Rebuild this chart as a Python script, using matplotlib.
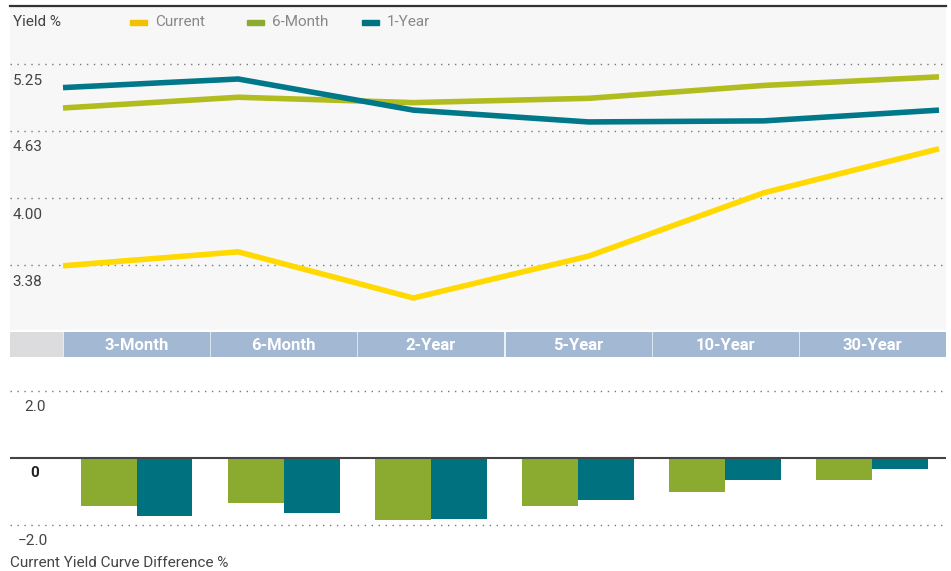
import numpy as np
import matplotlib
matplotlib.use('Agg')
import matplotlib.pyplot as plt
from matplotlib.patches import Rectangle

plt.rcParams['font.family'] = ['Roboto', 'DejaVu Sans']

# data
terms = ['3-Month', '6-Month', '2-Year', '5-Year', '10-Year', '30-Year']
series = ['Current', '6-Month', '1-Year']
current = [3.37, 3.50, 3.07, 3.46, 4.05, 4.46]
six_month = [4.84, 4.94, 4.89, 4.93, 5.05, 5.13]
one_year = [5.03, 5.11, 4.82, 4.71, 4.72, 4.82]
diff_6m = [-1.42, -1.33, -1.84, -1.42, -1.00, -0.64]
diff_1y = [-1.72, -1.63, -1.81, -1.24, -0.64, -0.31]
yield_ticks = [3.38, 4.00, 4.63, 5.25]
diff_ticks = [-2.0, 0, 2.0]

line_colors = ['#ffd900', '#b1bc1e', '#00788a']
swatch_colors = ['#f2c200', '#8aab2f', '#007380']
bar_colors = ['#8aab30', '#00727f']

W, H = 951, 571
fig = plt.figure(figsize=(W / 100, H / 100), dpi=100)
fig.patch.set_facecolor('white')

def box(x0, x1, y0, y1):
    return [x0 / W, 1 - y1 / H, (x1 - x0) / W, (y1 - y0) / H]

# ---- top: yield curves
ax = fig.add_axes(box(10, 946, 6, 330))
ax.set_facecolor('#f7f7f7')
for s in ax.spines.values():
    s.set_visible(False)
ax.set_xticks([]); ax.set_yticks([])
xi = np.arange(len(terms))
ax.set_xlim(-0.3025, 5.04)
ax.set_ylim(2.772, 5.790)
for t in yield_ticks:
    ax.axhline(t, color='#777777', lw=1, ls=(0, (1, 4)), zorder=1)
    ax.text(0.003, t - 0.158, f'{t:.2f}', transform=ax.get_yaxis_transform(),
            ha='left', va='center', fontsize=11, color='#444444')
for vals, c in zip([six_month, one_year, current], [line_colors[1], line_colors[2], line_colors[0]]):
    ax.plot(xi, vals, color=c, lw=4, solid_joinstyle='miter', solid_capstyle='butt', zorder=3)
ax.plot([0, 1], [1, 1], transform=ax.transAxes, color='#333333', lw=1.6, clip_on=False, zorder=5)

ax.text(3 / 936, 1 - 16 / 324, 'Yield %', transform=ax.transAxes, ha='left', va='center',
        fontsize=11, color='#444444')
leg_x = [130, 247, 362]
for lx, name, c in zip(leg_x, series, swatch_colors):
    ax.add_patch(Rectangle(((lx - 10) / 936, 1 - 19 / 324), 17 / 936, 5 / 324,
                           transform=ax.transAxes, color=c, clip_on=False))
    ax.text((lx + 25 - 10) / 936, 1 - 16 / 324, name, transform=ax.transAxes,
            ha='left', va='center', fontsize=11, color='#888888')

# ---- category row
axc = fig.add_axes(box(10, 946, 332, 357))
axc.set_xlim(-0.36, 6.0); axc.set_ylim(0, 1)
axc.axis('off')
axc.add_patch(Rectangle((-0.36, 0), 0.36 - 0.007, 1, color='#dcdcde'))
for i, name in enumerate(terms):
    axc.add_patch(Rectangle((i + 0.007, 0), 1 - 0.014, 1, color='#a3b8d3'))
    axc.text(i + 0.5, 0.45, name, ha='center', va='center', fontsize=12,
             fontweight='bold', color='white')

# ---- bottom: differences
axb = fig.add_axes(box(10, 946, 375, 545))
axb.set_xlim(-0.36, 6.0)
axb.set_ylim(-2.60, 2.49)
axb.axis('off')
for t in diff_ticks:
    if t == 0:
        axb.axhline(0, color='#444444', lw=1.5, zorder=4)
        axb.text(0.022, -0.45, '0', transform=axb.get_yaxis_transform(), ha='left',
                 va='center', fontsize=11, fontweight='bold', color='#222222')
    else:
        axb.axhline(t, color='#777777', lw=1, ls=(0, (1, 4)), zorder=1)
        lab = f'{t:.1f}'.replace('-', '\u2212')
        axb.text(0.008 if t < 0 else 0.015, t - 0.48, lab, transform=axb.get_yaxis_transform(),
                 ha='left', va='center', fontsize=11, color='#444444')
bw = 0.38
axb.bar(xi + 0.5 - bw / 2, diff_6m, width=bw, color=bar_colors[0], zorder=3)
axb.bar(xi + 0.5 + bw / 2, diff_1y, width=bw, color=bar_colors[1], zorder=3)

fig.text(10 / W, 1 - 563 / H, 'Current Yield Curve Difference %', ha='left', va='center',
         fontsize=11, color='#444444')

fig.savefig('out.png', dpi=100, facecolor='white')
